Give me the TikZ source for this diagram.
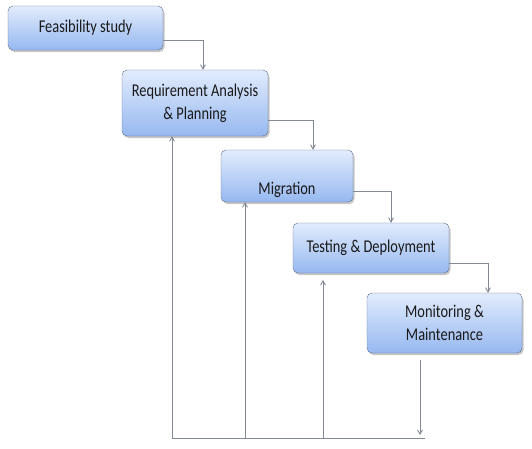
\documentclass[tikz,border=0pt]{standalone}
\usepackage{fontspec}
\setmainfont[FakeStretch=0.8]{Carlito}
\usepackage{tikz}
\usetikzlibrary{arrows}
\usetikzlibrary{shadows}
\definecolor{boxtop}{RGB}{226,236,252}
\definecolor{boxbot}{RGB}{150,184,240}
\definecolor{boxline}{RGB}{95,112,145}
\definecolor{linegray}{RGB}{130,136,148}
\tikzset{
	phase node/.style={rectangle,rounded corners=5pt,draw=boxline,top color=boxtop,bottom color=boxbot,
		drop shadow={opacity=0.45,shadow xshift=1.5pt,shadow yshift=-2pt},
		align=center,text=black!90,font=\fontsize{18}{23}\selectfont,inner sep=2pt},
	flow/.style={draw=linegray,line width=0.9pt}
}

\begin{document}
\begin{tikzpicture}[x=1pt,y=-1pt,->,>=angle 60]
	\useasboundingbox (0,0) rectangle (532,448);
	\node [phase node,minimum width=155pt,minimum height=44pt] (1) at (85.5,28) {Feasibility study};
	\node [phase node,minimum width=146pt,minimum height=66pt] (2) at (195,103) {Requirement Analysis\\ \& Planning};
	\node [phase node,minimum width=132pt,minimum height=52pt,text height=40pt,text depth=4pt] (3) at (287,176) {Migration};
	\node [phase node,minimum width=156pt,minimum height=50pt] (4) at (371,248) {Testing \& Deployment};
	\node [phase node,minimum width=155pt,minimum height=60pt] (5) at (444.5,323) {Monitoring \&\\ Maintenance};
	\coordinate (a) at (172,438);
	\coordinate (b) at (245,438);
	\coordinate (c) at (323,438);
	\coordinate (d) at (425,438);
	\coordinate (e) at (323,280);
	\coordinate (f) at (420,435);
	\draw [flow] ([yshift=-12pt]1.east) -| ([xshift=8pt]2.north);
	\draw [flow] ([yshift=-17pt]2.east) -| ([xshift=26pt]3.north);
	\draw [flow] ([yshift=-15pt]3.east) -| ([xshift=20pt]4.north);
	\draw [flow] ([yshift=-15pt]4.east) -| ([xshift=43.5pt]5.north);
	\draw [flow] ([xshift=-24.5pt,yshift=-7pt]5.south) -- (f);
	\draw [flow,-] (a) -- (d);
	\draw [flow] (a) -- (a |- 2.south);
	\draw [flow] (b) -- (b |- 3.south);
	\draw [flow] (c) -- (e);
\end{tikzpicture}
\end{document}
